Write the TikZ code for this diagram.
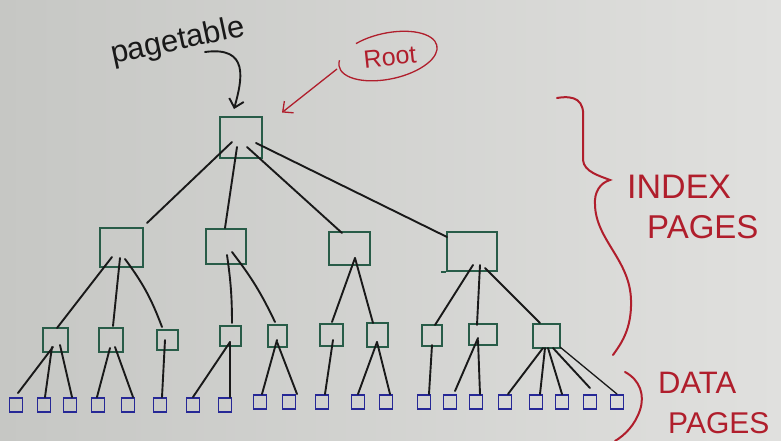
\documentclass[tikz,border=0pt]{standalone}
\usepackage{fontspec}
\setmainfont{Liberation Sans}
\usetikzlibrary{arrows.meta}
\definecolor{bgL}{RGB}{198,199,196}
\definecolor{bgR}{RGB}{224,224,222}
\definecolor{boxgreen}{RGB}{40,92,72}
\definecolor{leafblue}{RGB}{38,40,150}
\definecolor{ink}{RGB}{25,25,25}
\definecolor{redink}{RGB}{176,30,44}
\tikzset{
  gbox/.style={draw=boxgreen, line width=1.9pt, inner sep=0pt},
  leaf/.style={draw=leafblue, line width=1.9pt, inner sep=0pt, minimum width=13pt, minimum height=14pt},
  link/.style={draw=ink, line width=1.9pt, line cap=round},
  redline/.style={draw=redink, line width=2pt, line cap=round},
  handtext/.style={inner sep=0pt}
}
\begin{document}
\begin{tikzpicture}[x=1pt,y=-1pt]
\shade[left color=bgL, right color=bgR] (0,0) rectangle (781,441);
\useasboundingbox (0,0) rectangle (781,441);

% tree boxes
\node[gbox, minimum width=42pt, minimum height=41pt] (root) at (241,137.5) {};
\node[gbox, minimum width=43pt, minimum height=39pt] (A) at (121.5,247.5) {};
\node[gbox, minimum width=40pt, minimum height=35pt] (B) at (226,246.5) {};
\node[gbox, minimum width=41pt, minimum height=33pt] (C) at (349.5,248.5) {};
\node[gbox, minimum width=50pt, minimum height=39pt] (D) at (472,251.5) {};
\draw[draw=boxgreen, line width=1.9pt] ([xshift=-5pt]D.south west) -- (D.south west);
\node[gbox, minimum width=25pt, minimum height=24pt] (a1) at (55.5,340) {};
\node[gbox, minimum width=24pt, minimum height=24pt] (a2) at (111,340) {};
\node[gbox, minimum width=21pt, minimum height=20pt] (a3) at (167.5,340) {};
\node[gbox, minimum width=21pt, minimum height=20pt] (b1) at (230.5,336) {};
\node[gbox, minimum width=19pt, minimum height=22pt] (b2) at (277.5,336) {};
\node[gbox, minimum width=23pt, minimum height=22pt] (c1) at (331.5,335) {};
\node[gbox, minimum width=21pt, minimum height=24pt] (c2) at (377.5,335) {};
\node[gbox, minimum width=20pt, minimum height=21pt] (d1) at (432,335.5) {};
\node[gbox, minimum width=28pt, minimum height=21pt] (d2) at (483,334.5) {};
\node[gbox, minimum width=27pt, minimum height=24pt] (d3) at (546.5,336) {};

\foreach \n/\x/\y in {1/16/405,2/44/405,3/70/405,4/98/405,5/128/405,6/160/405,7/193/405,8/225/405,
  9/260/402,10/289/402,11/322/402,12/358/402,13/386/402,14/424/402,15/450/402,16/476/402,
  17/505/402,18/536/402,19/562/402,20/590/402,21/617/402}
  \node[leaf] (L\n) at (\x,\y) {};

% root -> level 1
\draw[link] ([shift={(-9,4.5)}]root.center) -- ([shift={(25.5,-24.5)}]A.center);
\draw[link] ([shift={(-4,9.5)}]root.center) -- ([shift={(-1,-18.5)}]B.center);
\draw[link] ([shift={(6,9.5)}]root.center) -- ([shift={(-7.5,-15.5)}]C.center);
\draw[link] ([shift={(15,5.5)}]root.center) -- ([shift={(-25,-14.5)}]D.center);

% level 1 -> level 2
\draw[link] ([shift={(-9.5,9.5)}]A.center) -- ([shift={(1.5,-12)}]a1.center);
\draw[link] ([shift={(-1.5,10.5)}]A.center) -- ([shift={(2,-14)}]a2.center);
\draw[link] ([shift={(3.5,11.5)}]A.center) to[bend left=8] ([shift={(-5.5,-13)}]a3.center);
\draw[link] ([shift={(1,8.5)}]B.center) to[bend left=4] ([shift={(1.5,-13)}]b1.center);
\draw[link] ([shift={(6,5.5)}]B.center) to[bend left=6] ([shift={(-2.5,-14)}]b2.center);
\draw[link] ([shift={(5.5,9.5)}]C.center) -- ([shift={(0.5,-13)}]c1.center);
\draw[link] ([shift={(5.5,9.5)}]C.center) -- ([shift={(-4.5,-12)}]c2.center);
\draw[link] ([shift={(1,13.5)}]D.center) -- ([shift={(3,-10.5)}]d1.center);
\draw[link] ([shift={(8,13.5)}]D.center) -- ([shift={(-6,-9.5)}]d2.center);
\draw[link] ([shift={(13,16.5)}]D.center) -- ([shift={(-6.5,-13)}]d3.center);

% level 2 -> data pages
\draw[link] ([shift={(-2.5,7)}]a1.center) -- ([shift={(2,-4)}]L1.north);
\draw[link] ([shift={(-3.5,7)}]a1.center) -- ([shift={(1,0)}]L2.north);
\draw[link] ([shift={(4.5,5)}]a1.center) -- ([shift={(2,0)}]L3.north);
\draw[link] ([shift={(-1,8)}]a2.center) -- ([shift={(-1,0)}]L4.north);
\draw[link] ([shift={(4,7)}]a2.center) -- ([shift={(5,0)}]L5.north);
\draw[link] ([shift={(-2.5,0)}]a3.center) -- ([shift={(2,0)}]L6.north);
\draw[link] ([shift={(-0.5,6)}]b1.center) -- ([shift={(0,0)}]L7.north);
\draw[link] ([shift={(-0.5,6)}]b1.center) -- ([shift={(5,0)}]L8.north);
\draw[link] ([shift={(-0.5,4)}]b2.center) -- ([shift={(2,0)}]L9.north);
\draw[link] ([shift={(-0.5,6)}]b2.center) -- ([shift={(8,0)}]L10.north);
\draw[link] ([shift={(1.5,5)}]c1.center) -- ([shift={(3,0)}]L11.north);
\draw[link] ([shift={(-0.5,7)}]c2.center) -- ([shift={(0,0)}]L12.north);
\draw[link] ([shift={(-0.5,7)}]c2.center) -- ([shift={(4,0)}]L13.north);
\draw[link] ([shift={(0,9.5)}]d1.center) -- ([shift={(5,0)}]L14.north);
\draw[link] ([shift={(-5,3.5)}]d2.center) -- ([shift={(5,-3)}]L15.north);
\draw[link] ([shift={(-5,5.5)}]d2.center) -- ([shift={(4,0)}]L16.north);
\draw[link] ([shift={(-3.5,12)}]d3.center) -- ([shift={(3,0)}]L17.north);
\draw[link] ([shift={(-1.5,12)}]d3.center) -- ([shift={(4,0)}]L18.north);
\draw[link] ([shift={(1.5,12)}]d3.center) -- ([shift={(0,0)}]L19.north);
\draw[link] ([shift={(6.5,12)}]d3.center) -- ([shift={(0,-6)}]L20.north);
\draw[link, line width=1.3pt] ([shift={(13.5,11)}]d3.center) -- ([shift={(0,0)}]L21.north);

% pagetable label and arrow
\node[handtext, rotate=12, font=\fontsize{31}{31}\selectfont, text=ink] (pt) at (178,42) {pagetable};
\coordinate (ptarrow) at (205,52);
\draw[link, -{Straight Barb[length=8pt,width=15pt]}] (ptarrow) .. controls (250,46) and (242,80) .. ([shift={(-7,-7)}]root.north);

% Root ellipse, label and arrow
\node[handtext, rotate=6, font=\fontsize{25}{25}\selectfont, text=redink] (rootlbl) at (390,57) {Root};
\draw[draw=redink, line width=1.3pt, rotate around={12:(388,56)}] (359.3,37.2) arc[start angle=235, end angle=555, x radius=50, y radius=23];
\coordinate (rootfrom) at (337,69);
\draw[draw=redink, line width=1.3pt, -{Straight Barb[length=8pt,width=15pt]}] (rootfrom) -- ([shift={(41,-25)}]root.center);

% INDEX PAGES brace and label
\draw[redline] (557,98) .. controls (575,95) and (585,100) .. (583,120) -- (583,160)
  .. controls (584,172) and (600,176) .. (610,180)
  .. controls (600,183) and (594,192) .. (595,205)
  .. controls (596,240) and (630,260) .. (631,300)
  .. controls (632,330) and (620,345) .. (613,355);
\node[handtext, anchor=base west, font=\fontsize{34}{34}\selectfont, text=redink] (idx) at (627,198) {INDEX};
\node[handtext, anchor=base west, font=\fontsize{33}{33}\selectfont, text=redink] (idxp) at (647,238) {PAGES};

% DATA PAGES brace and label
\draw[redline] (625,372) .. controls (640,380) and (645,395) .. (640,410) .. controls (635,425) and (625,435) .. (615,441);
\node[handtext, anchor=base west, font=\fontsize{31}{31}\selectfont, text=redink] (dat) at (658,393) {DATA};
\node[handtext, anchor=base west, font=\fontsize{30}{30}\selectfont, text=redink] (datp) at (668,433) {PAGES};
\end{tikzpicture}
\end{document}
